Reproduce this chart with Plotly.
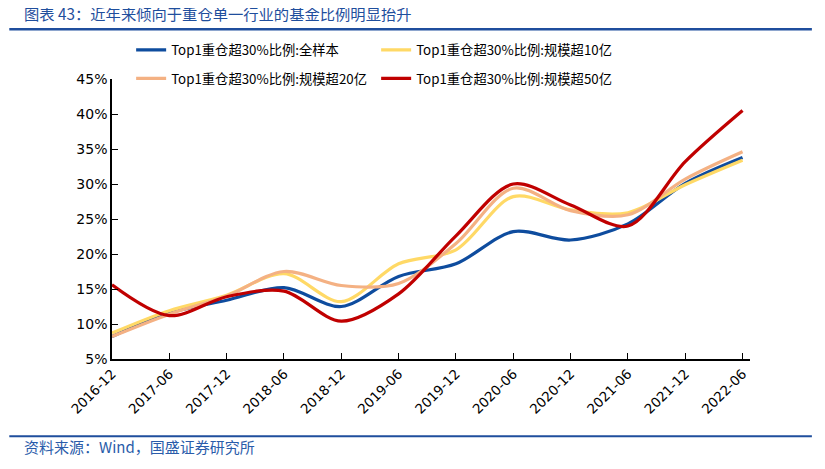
import plotly.graph_objects as go

dates = ["2016-12", "2017-06", "2017-12", "2018-06", "2018-12", "2019-06",
         "2019-12", "2020-06", "2020-12", "2021-06", "2021-12", "2022-06"]
all_sample = [8.2, 11.6, 13.4, 15.2, 12.5, 16.8, 18.6, 23.2, 22.0, 24.3, 30.1, 33.8]
over_10 = [8.7, 11.9, 14.1, 17.2, 13.2, 18.6, 20.6, 28.2, 26.3, 25.9, 29.9, 33.4]
over_20 = [8.2, 11.4, 14.0, 17.5, 15.5, 15.8, 21.5, 29.4, 26.2, 25.6, 30.7, 34.6]
over_50 = [15.6, 11.2, 13.9, 14.7, 10.4, 14.3, 22.6, 30.0, 27.0, 24.0, 33.2, 40.5]

names = ["Top1重仓超30%比例:全样本", "Top1重仓超30%比例:规模超10亿",
         "Top1重仓超30%比例:规模超20亿", "Top1重仓超30%比例:规模超50亿"]
colors = ["#0E4C9E", "#FFD966", "#F4B183", "#C00000"]
legend_ids = ["legend", "legend", "legend2", "legend2"]
series = [all_sample, over_10, over_20, over_50]

xs = list(range(len(dates)))
fig = go.Figure()
for name, col, ys, lg in zip(names, colors, series, legend_ids):
    fig.add_trace(go.Scatter(x=xs, y=ys, name=name, mode="lines", legend=lg,
                             line=dict(color=col, width=3.2, shape="spline", smoothing=0.9)))

legend_common = dict(orientation="h", xanchor="left", yanchor="middle",
                     entrywidth=200, entrywidthmode="pixels", traceorder="normal",
                     font=dict(family="Noto Sans CJK SC", size=13.3, color="#000000"),
                     itemwidth=30, bgcolor="rgba(0,0,0,0)")

fig.update_layout(
    width=825, height=469,
    margin=dict(l=104, r=82.5, t=71, b=117.7, autoexpand=False),
    paper_bgcolor="white", plot_bgcolor="white",
    font=dict(family="DejaVu Sans, Noto Sans CJK SC", size=13, color="#000000"),
    showlegend=True,
    legend=dict(x=0.030, y=1.103, **legend_common),
    legend2=dict(x=0.030, y=1.001, **legend_common),
    xaxis=dict(range=[0, 11.13], tickmode="array", tickvals=xs, ticktext=dates,
               tickangle=-45, ticks="inside", ticklen=6, tickcolor="black",
               showline=True, linecolor="black", linewidth=1.5, showgrid=False,
               zeroline=False, tickfont=dict(family="DejaVu Sans", size=13.5)),
    yaxis=dict(range=[5, 45], tickvals=[5, 10, 15, 20, 25, 30, 35, 40, 45],
               ticktext=[f"{v}%" for v in [5, 10, 15, 20, 25, 30, 35, 40, 45]],
               ticks="inside", ticklen=6, tickcolor="black",
               showline=True, linecolor="black", linewidth=1.5, showgrid=False,
               zeroline=False, tickfont=dict(family="DejaVu Sans", size=14)),
    shapes=[
        dict(type="line", xref="paper", yref="paper", x0=-0.161, x1=1.097,
             y0=1.178, y1=1.178, line=dict(color="#1F4E9D", width=2.5)),
        dict(type="line", xref="paper", yref="paper", x0=-0.161, x1=1.097,
             y0=-0.276, y1=-0.276, line=dict(color="#1F4E9D", width=2)),
    ],
    annotations=[
        dict(text="图表 43：近年来倾向于重仓单一行业的基金比例明显抬升", xref="paper", yref="paper",
             x=-0.141, y=1.235, xanchor="left", yanchor="middle", showarrow=False,
             font=dict(family="Noto Sans CJK SC", size=15.3, color="#1F4E9D")),
        dict(text="资料来源：Wind，国盛证券研究所", xref="paper", yref="paper",
             x=-0.141, y=-0.312, xanchor="left", yanchor="middle", showarrow=False,
             font=dict(family="Noto Sans CJK SC", size=15, color="#2A5CAA")),
    ],
)

fig.write_html("out.html")
